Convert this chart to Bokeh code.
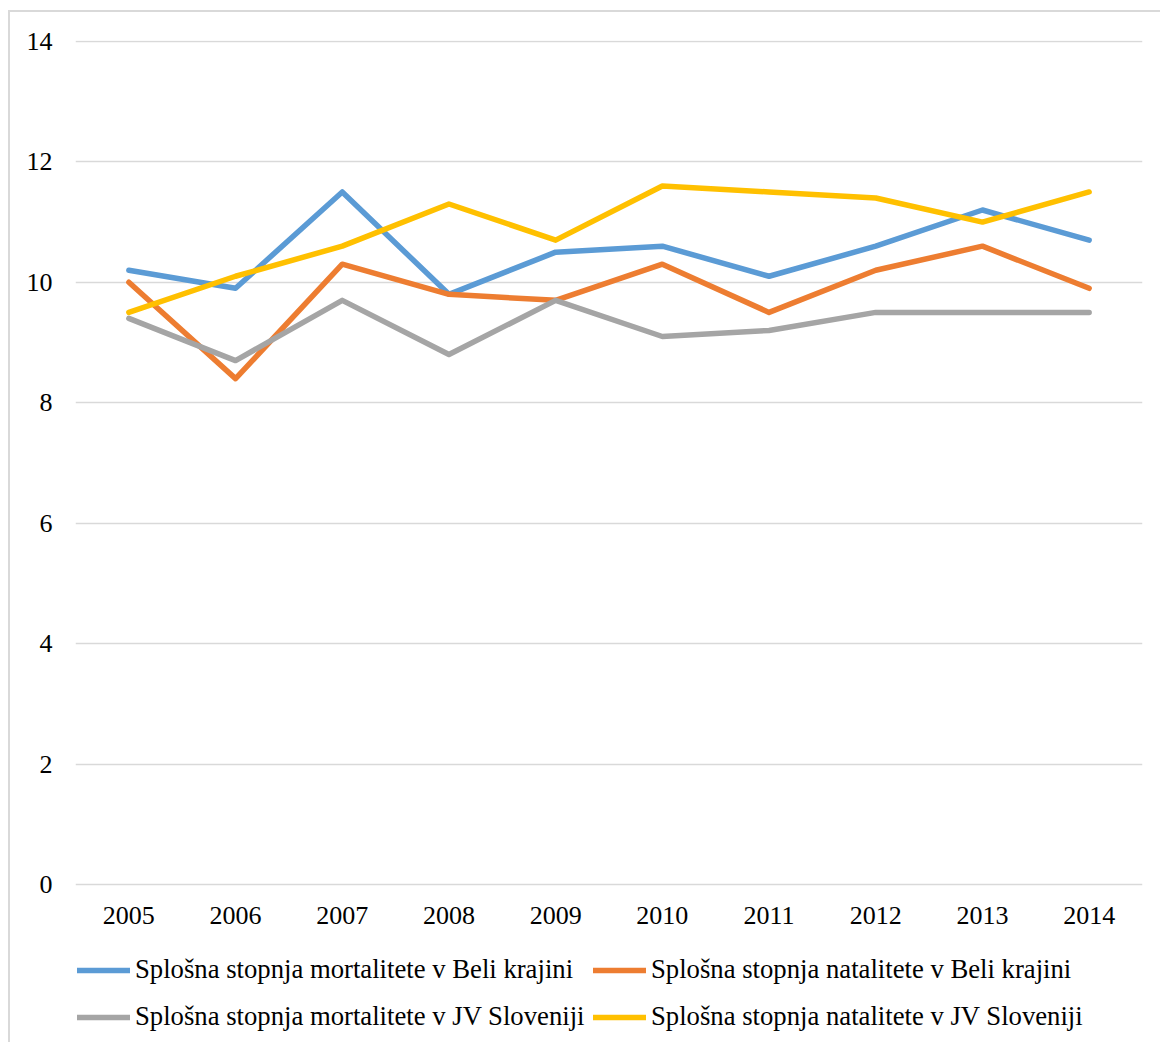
from bokeh.plotting import figure
from bokeh.models import Legend, LegendItem, FixedTicker, Range1d, FactorRange
from bokeh.embed import file_html
from bokeh.resources import INLINE

years = ["2005", "2006", "2007", "2008", "2009", "2010", "2011", "2012", "2013", "2014"]
mort_bk = [10.2, 9.9, 11.5, 9.8, 10.5, 10.6, 10.1, 10.6, 11.2, 10.7]
nat_bk = [10.0, 8.4, 10.3, 9.8, 9.7, 10.3, 9.5, 10.2, 10.6, 9.9]
mort_jv = [9.4, 8.7, 9.7, 8.8, 9.7, 9.1, 9.2, 9.5, 9.5, 9.5]
nat_jv = [9.5, 10.1, 10.6, 11.3, 10.7, 11.6, 11.5, 11.4, 11.0, 11.5]
y_ticks = [0, 2, 4, 6, 8, 10, 12, 14]

labels = [
    "Splošna stopnja mortalitete v Beli krajini",
    "Splošna stopnja natalitete v Beli krajini",
    "Splošna stopnja mortalitete v JV Sloveniji",
    "Splošna stopnja natalitete v JV Sloveniji",
]
colors = ["#5B9BD5", "#ED7D31", "#A5A5A5", "#FFC000"]
FONT = "Liberation Serif"
FS = "26px"
LFS = "26.7px"

# frame extends below y=0 so the legend can sit inside it (x axis fixed at y=0)
px_per_unit = 843 / 14
y_bottom = -160 / px_per_unit

p = figure(
    x_range=FactorRange(*years, range_padding=0),
    y_range=Range1d(y_bottom, 14.015),
    width=1152, height=1032,
    min_border_left=65, min_border_top=28, min_border_right=20, min_border_bottom=0,
    output_backend="svg", toolbar_location=None,
    background_fill_color="white", border_fill_color="white",
    styles={"border-left": "2px solid #d9d9d9", "border-top": "2px solid #d9d9d9",
            "margin-left": "8px", "margin-top": "10px"},
)
p.outline_line_color = None
p.xgrid.grid_line_color = None
p.ygrid.grid_line_color = "#D9D9D9"
p.ygrid.grid_line_width = 1.5
p.yaxis.ticker = FixedTicker(ticks=y_ticks)
p.ygrid.ticker = FixedTicker(ticks=y_ticks)

for ax in (p.xaxis[0], p.yaxis[0]):
    ax.major_tick_line_color = None
    ax.minor_tick_line_color = None
    ax.major_label_text_font = FONT
    ax.major_label_text_font_size = FS
    ax.major_label_text_color = "black"
p.yaxis.axis_line_color = None
p.xaxis.axis_line_color = None
p.yaxis.major_label_standoff = 17
p.xaxis.major_label_standoff = 17
p.xaxis.fixed_location = 0

rends = []
for vals, c in zip([mort_bk, nat_bk, mort_jv, nat_jv], colors):
    r = p.line(years, vals, line_color=c, line_width=5.5, line_join="round", line_cap="round")
    rends.append(r)

def make_legend(idx, loc):
    return Legend(
        items=[LegendItem(label=labels[i], renderers=[rends[i]]) for i in idx],
        orientation="horizontal", location=loc,
        glyph_width=53, glyph_height=30, label_standoff=5, label_width=451,
        spacing=7, padding=0, margin=0,
        border_line_color=None, background_fill_alpha=0,
        label_text_font=FONT, label_text_font_size=LFS, label_text_color="black",
        label_height=30,
    )

p.add_layout(make_legend([0, 1], (2, 59)), "center")
p.add_layout(make_legend([2, 3], (2, 12)), "center")

open("out.html", "w").write(file_html(p, INLINE))
